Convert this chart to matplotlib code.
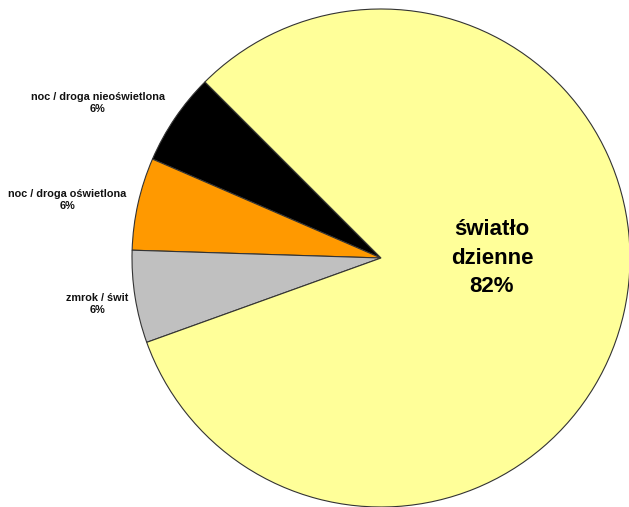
import matplotlib
matplotlib.use("Agg")
import matplotlib.pyplot as plt

# Share of accidents by lighting conditions
categories = ["noc / droga nieoświetlona", "noc / droga oświetlona", "zmrok / świt", "światło\ndzienne"]
values = [6, 6, 6, 82]
colors = ["#000000", "#FF9900", "#C0C0C0", "#FFFF99"]

W, H = 629, 507
fig = plt.figure(figsize=(W / 100, H / 100), dpi=100)
fig.patch.set_facecolor("white")

cx, cy, r = 381, 258, 249
ax = fig.add_axes([(cx - r) / W, (H - cy - r) / H, 2 * r / W, 2 * r / H])
ax.pie(values, colors=colors, startangle=135, counterclock=True, radius=1,
       wedgeprops=dict(edgecolor="#333333", linewidth=0.8))
ax.set_xlim(-1, 1)
ax.set_ylim(-1, 1)
ax.set_aspect("equal")
ax.axis("off")

font = "Liberation Sans"

def px(x, y):
    return x / W, 1 - y / H

# small outside labels
small_pos = [(98, 103), (67, 200), (97, 304)]
for name, val, (x, y) in zip(categories[:3], values[:3], small_pos):
    fx, fy = px(x, y)
    fig.text(fx, fy, f"{name}\n{val}%", ha="center", va="center",
             fontsize=7.8, fontweight="bold", family=font, linespacing=1.2,
             color="#111111")

# large label inside the main slice
fx, fy = px(492, 258)
fig.text(fx, fy, f"{categories[3]}\n{values[3]}%", ha="center", va="center",
         fontsize=16, fontweight="bold", family=font, linespacing=1.45)

fig.savefig("out.png", dpi=100)
